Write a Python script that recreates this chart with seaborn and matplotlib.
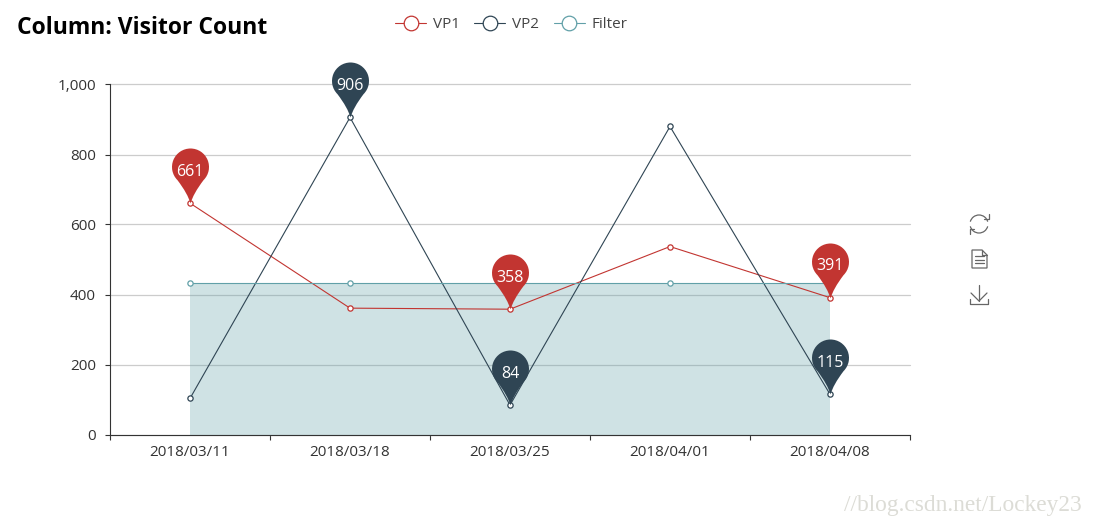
import numpy as np
import pandas as pd
import matplotlib
matplotlib.use("Agg")
import matplotlib.pyplot as plt
from matplotlib.lines import Line2D
from matplotlib.patches import Arc, Polygon
from matplotlib.path import Path
from matplotlib.transforms import Affine2D
import seaborn as sns

# Data
dates = ["2018/03/11", "2018/03/18", "2018/03/25", "2018/04/01", "2018/04/08"]
vp1 = [661, 361, 358, 537, 391]
vp2 = [103, 906, 84, 880, 115]
filter_vals = [432, 432, 432, 432, 432]
vp1_marked = ["2018/03/11", "2018/03/25", "2018/04/08"]
vp2_marked = ["2018/03/18", "2018/03/25", "2018/04/08"]
y_ticks = [0, 200, 400, 600, 800, 1000]

RED = "#c23531"
NAVY = "#2f4554"
TEAL = "#61a0a8"
W, H = 1093, 525

sns.set_theme(style="white")
plt.rcParams["font.family"] = ["Open Sans", "DejaVu Sans"]


def pin_path():
    # map pin with its tip at the origin and top at y=1
    r = 18.5 / 55
    cy = 36.5 / 55
    arc = Path.arc(-45, 225)
    verts = arc.vertices * r + [0, cy]
    codes = list(arc.codes)
    first = verts[0]
    last = verts[-1]
    all_verts = list(verts) + [(last[0] * 0.2, cy - r * 1.45), (0, 0),
                               (first[0] * 0.2, cy - r * 1.45), first]
    codes = codes + [Path.CURVE3, Path.CURVE3, Path.CURVE3, Path.CURVE3]
    return Path(np.array(all_verts), codes)


df = pd.DataFrame({"date": dates, "pos": np.arange(len(dates)),
                   "VP1": vp1, "VP2": vp2, "Filter": filter_vals})

fig = plt.figure(figsize=(W / 100, H / 100), dpi=100)
ax = fig.add_axes([110 / W, (H - 434.5) / H, 800 / W, 350 / H])
ax.set_xlim(-0.5, len(dates) - 0.5)
ax.set_ylim(0, 1000)

ax.fill_between(df["pos"], 0, df["Filter"], color=TEAL, alpha=0.3, lw=0, zorder=2)

for col, color in [("VP1", RED), ("VP2", NAVY), ("Filter", TEAL)]:
    sns.lineplot(data=df, x="pos", y=col, ax=ax, color=color, lw=0.8, marker="o",
                 markersize=3.8, markerfacecolor="white", markeredgecolor=color,
                 markeredgewidth=0.9, errorbar=None, zorder=3, clip_on=False)

# pins for the marked points
pin = pin_path()
for col, color, marked in [("VP1", RED, vp1_marked), ("VP2", NAVY, vp2_marked)]:
    sub = df[df["date"].isin(marked)]
    sns.scatterplot(data=sub, x="pos", y=col, ax=ax, marker=pin, s=6273, color=color,
                    linewidth=0, zorder=4, clip_on=False, legend=False)
    for _, row in sub.iterrows():
        ax.annotate(str(row[col]), (row["pos"], row[col]), xytext=(0, 22.5),
                    textcoords="offset points", ha="center", va="center",
                    color="white", fontsize=11.5, zorder=5)

# axes
ax.set_xlabel("")
ax.set_ylabel("")
ax.set_yticks(y_ticks)
ax.set_yticklabels([f"{v:,}" for v in y_ticks])
ax.set_xticks(np.arange(len(dates) + 1) - 0.5)
ax.set_xticklabels([])
ax.set_xticks(df["pos"], minor=True)
ax.set_xticklabels(dates, minor=True)
ax.grid(axis="y", color="#cccccc", lw=0.9, zorder=1, clip_on=False)
for line in ax.get_ygridlines():
    line.set_clip_on(False)
ax.set_axisbelow(True)
ax.tick_params(axis="both", which="major", length=3.6, width=0.8, color="#333333",
               labelcolor="#333333", labelsize=11, left=True, bottom=True, pad=6.5)
ax.tick_params(axis="x", which="minor", length=0, labelcolor="#333333", labelsize=11, pad=7.5)
for side in ["top", "right"]:
    ax.spines[side].set_visible(False)
for side in ["left", "bottom"]:
    ax.spines[side].set_color("#333333")
    ax.spines[side].set_linewidth(0.8)

# legend
handles = [Line2D([], [], color=c, lw=0.8, marker="o", markersize=10.5, markerfacecolor="white",
                  markeredgecolor=c, markeredgewidth=0.9) for c in [RED, NAVY, TEAL]]
ax.legend(handles, ["VP1", "VP2", "Filter"], ncol=3, frameon=False, fontsize=11,
          labelcolor="#444444", handlelength=2.03, handletextpad=0.45, columnspacing=0.95,
          loc="center left", bbox_to_anchor=(395 / W, (H - 24.5) / H),
          bbox_transform=fig.transFigure, borderaxespad=0, borderpad=0)

fig.text(17 / W, (H - 28) / H, "Column: Visitor Count", fontsize=16.5, fontweight="bold",
         color="black", ha="left", va="center")

# toolbox icons, drawn in figure pixels
px = Affine2D().scale(1, -1).translate(0, H)
GREY = "#666666"


def icon_line(xs, ys):
    fig.add_artist(Line2D(xs, ys, color=GREY, lw=0.9, transform=px))


# refresh
fig.add_artist(Arc((979, 224), 18, 18, theta1=15, theta2=165, color=GREY, lw=0.9, transform=px))
fig.add_artist(Arc((979, 224), 18, 18, theta1=195, theta2=345, color=GREY, lw=0.9, transform=px))
icon_line([984, 988.5, 988.5], [219, 219, 214])
icon_line([974, 969.5, 969.5], [229, 229, 234])
# data view
fig.add_artist(Polygon([(972, 250), (982, 250), (987, 255), (987, 268), (972, 268)], closed=True,
                       fill=False, edgecolor=GREY, lw=0.9, transform=px))
icon_line([982, 982, 987], [250, 255, 255])
for y in [256, 259.5, 263]:
    icon_line([975, 984], [y, y])
# save image
icon_line([979, 979], [285, 301])
icon_line([971, 979, 987], [293, 301, 293])
icon_line([970, 970, 988, 988], [299, 303.5, 303.5, 299])

# watermark
fig.text(1082 / W, (H - 506) / H, "//blog.csdn.net/Lockey23", family=["Liberation Serif", "DejaVu Serif"],
         fontsize=16.8, color="#dcdcd6", ha="right", va="center")

fig.savefig("out.png", dpi=100)
